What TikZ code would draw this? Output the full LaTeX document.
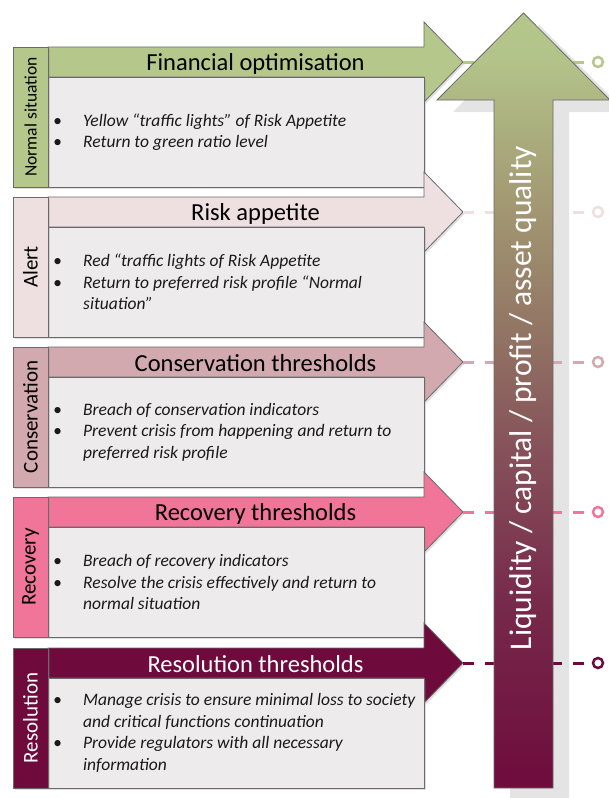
\documentclass[tikz,border=0pt]{standalone}
\usepackage{fontspec}
\setmainfont{Carlito}
\usetikzlibrary{shadows}
\definecolor{normalc}{HTML}{B5C78A}
\definecolor{alertc}{HTML}{EEDFE1}
\definecolor{consc}{HTML}{D3A9B0}
\definecolor{recc}{HTML}{F07599}
\definecolor{resc}{HTML}{6E0B3C}
\definecolor{bodyc}{HTML}{EDEBEC}
\definecolor{edgec}{HTML}{6A6A6A}
\definecolor{shadec}{HTML}{E4E4E4}
\definecolor{liqa}{HTML}{772A4B}
\definecolor{liqb}{HTML}{86525A}
\definecolor{liqc}{HTML}{927564}
\definecolor{liqd}{HTML}{A39A73}
\definecolor{liqe}{HTML}{B3C38A}
\pgfdeclareverticalshading{liquidity}{100bp}{color(0bp)=(resc); color(25bp)=(resc); color(37bp)=(liqa); color(47bp)=(liqb); color(54.5bp)=(liqc); color(63bp)=(liqd); color(72bp)=(liqe); color(75bp)=(normalc); color(100bp)=(normalc)}
\newcommand{\itm}{\makebox[35pt][l]{\hspace{5pt}\textbullet}}
\newcommand{\cnt}{\hspace*{35pt}}
\newcommand{\liqpath}{(494,788) -- (494,100) -- (437,100) -- (523.5,13) -- (610,100) -- (553,100) -- (553,788) -- cycle}
% #1 key, #2 top, #3 colour, #4 text colour, #5 side label, #6 title, #7 bullet lines
\newcommand{\stage}[7]{%
  \filldraw[band, fill=#3] (48,#2) -- (424,#2) -- (424,{#2-25}) -- (463,{#2+15}) -- (424,{#2+55}) -- (424,{#2+30}) -- (48,{#2+30}) -- cycle;
  \coordinate (tip#1) at (463,{#2+15});
  \node[title, text=#4] (title#1) at (255.5,{#2+16.5}) {#6};
  \node[body] (body#1) at (236,{#2+85}) {};
  \node[items] (items#1) at (48,{#2+85}) {#7};
  \node[side, fill=#3, text=#4] (side#1) at (30.5,{#2+70}) {#5};
  \node[ring, draw=#3] (end#1) at (598,{#2+15}) {};
  \draw[link, draw=#3] (tip#1) -- (end#1);
}

\begin{document}
\begin{tikzpicture}[x=1pt, y=-1pt,
    band/.style={draw=edgec, line width=.8pt, drop shadow={opacity=.25, shadow xshift=1.5pt, shadow yshift=-2pt}},
    title/.style={inner sep=0pt, font=\fontsize{24.5}{28}\selectfont},
    body/.style={draw=edgec, fill=bodyc, line width=.8pt, minimum width=376pt, minimum height=110pt, inner sep=0pt, drop shadow={opacity=.25, shadow xshift=1.5pt, shadow yshift=-2pt}},
    items/.style={anchor=west, align=left, inner sep=0pt, text=black!90, font=\fontsize{17.5}{21.5}\selectfont\itshape},
    side/.style={draw=edgec, line width=.8pt, rotate=90, minimum width=140pt, minimum height=35pt, inner sep=0pt, font=\fontsize{21}{24}\selectfont, drop shadow={opacity=.25, shadow xshift=1.5pt, shadow yshift=-2pt}},
    ring/.style={circle, line width=2.5pt, fill=white, minimum size=10pt, inner sep=0pt},
    link/.style={line width=3pt, dash pattern=on 11pt off 11pt},
    liqtext/.style={rotate=90, text=white, inner sep=0pt, font=\fontsize{31.5}{36}\selectfont}]
\useasboundingbox (0,0) rectangle (609,798);
\fill[shadec, shift={(16,12)}] \liqpath;

\stage{1}{47}{normalc}{black}{\fontsize{17.5}{20}\selectfont Normal situation}{Financial optimisation}
  {\itm Yellow “traffic lights” of Risk Appetite\\ \itm Return to green ratio level}
\stage{2}{197}{alertc}{black}{Alert}{Risk appetite}
  {\itm Red “traffic lights of Risk Appetite\\ \itm Return to preferred risk profile “Normal\\ \cnt situation”}
\stage{3}{347}{consc}{black}{Conservation}{Conservation thresholds}
  {\itm Breach of conservation indicators\\ \itm Prevent crisis from happening and return to\\ \cnt preferred risk profile}
\stage{4}{497}{recc}{black}{Recovery}{Recovery thresholds}
  {\itm Breach of recovery indicators\\ \itm Resolve the crisis effectively and return to\\ \cnt normal situation}
\stage{5}{648}{resc}{white}{Resolution}{Resolution thresholds}
  {\itm Manage crisis to ensure minimal loss to society\\ \cnt and critical functions continuation\\ \itm Provide regulators with all necessary\\ \cnt information}

\shade[shading=liquidity, draw=edgec, line width=.8pt] \liqpath;
\node[liqtext] (liq) at (523.5,398) {Liquidity / capital / profit / asset quality};
\end{tikzpicture}
\end{document}
